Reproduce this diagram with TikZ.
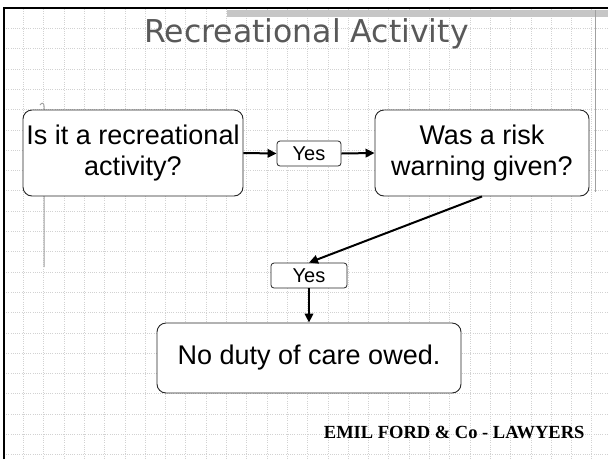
\documentclass[tikz,border=0pt]{standalone}
\usepackage{fontspec}
\setmainfont{Liberation Sans}
\newfontfamily\titlefont{DejaVu Sans}
\newfontfamily\footfont{Liberation Serif}
\usetikzlibrary{arrows.meta}
\definecolor{titlegray}{HTML}{595959}
\definecolor{gridgray}{HTML}{D2D2D2}
\definecolor{bargray}{HTML}{C6C6C6}
\definecolor{ghostgray}{HTML}{A0A0A0}
\begin{document}
\begin{tikzpicture}[x=1pt,y=-1pt,
  box/.style={draw=black!85, line width=0.9pt, rounded corners=9pt, fill=white,
    inner sep=0pt, align=center, font=\fontsize{27}{31}\selectfont},
  yesbox/.style={draw=black!85, line width=0.8pt, rounded corners=3pt, fill=white,
    inner sep=0pt, font=\fontsize{20}{22}\selectfont},
  conn/.style={line width=2pt, -{Triangle[length=9pt,width=8.5pt]}},
  gridline/.style={gridgray, line width=0.6pt, dash pattern=on 1pt off 1.2pt},
  ghost/.style={ghostgray, line width=1pt}]
\useasboundingbox (0,0) rectangle (608,459);
\fill[white] (0,0) rectangle (608,459);
% grid
\foreach \i in {1,...,30} {\draw[gridline] ({3+20.3*\i},9) -- ({3+20.3*\i},459);}
\foreach \j in {1,...,22} {\draw[gridline] (4,{8+20.3*\j}) -- (608,{8+20.3*\j});}
% top bar and frame
\fill[bargray] (227,9.5) rectangle (608,17);
\draw[ghost] (595,10) -- (595,192);
\draw[line width=2.6pt] (4,459) -- (4,8) -- (608,8);
% ghost shapes behind the first box
\draw[ghost] (44,267) -- (44,106) .. controls (44,103) and (42,102) .. (40,105);
% title
\node[anchor=base, font=\titlefont\fontsize{31.5}{34}\selectfont, text=titlegray] (title) at (306.5,42) {Recreational Activity};
% boxes
\node[box, minimum width=220pt, minimum height=86pt] (q1) at (133,153) {Is it a recreational\\activity?};
\node[box, minimum width=214pt, minimum height=86pt] (q2) at (482,153) {Was a risk\\warning given?};
\node[box, minimum width=304pt, minimum height=70pt] (res) at (309,358) {No duty of care owed.};
\node[yesbox, minimum width=64pt, minimum height=25pt] (y1) at (309,153.5) {Yes};
\node[yesbox, minimum width=76pt, minimum height=25pt] (y2) at (309,275.5) {Yes};
% connectors
\draw[conn] (q1.east) -- (y1.west);
\draw[conn] (y1.east) -- (q2.west);
\draw[conn] (q2.south) -- (y2.north);
\draw[conn] (y2.south) -- (res.north);
% footer
\node[anchor=base east, font=\footfont\bfseries\fontsize{18.5}{20}\selectfont] (footer) at (588,438) {EMIL FORD \& Co - LAWYERS};
\end{tikzpicture}
\end{document}
